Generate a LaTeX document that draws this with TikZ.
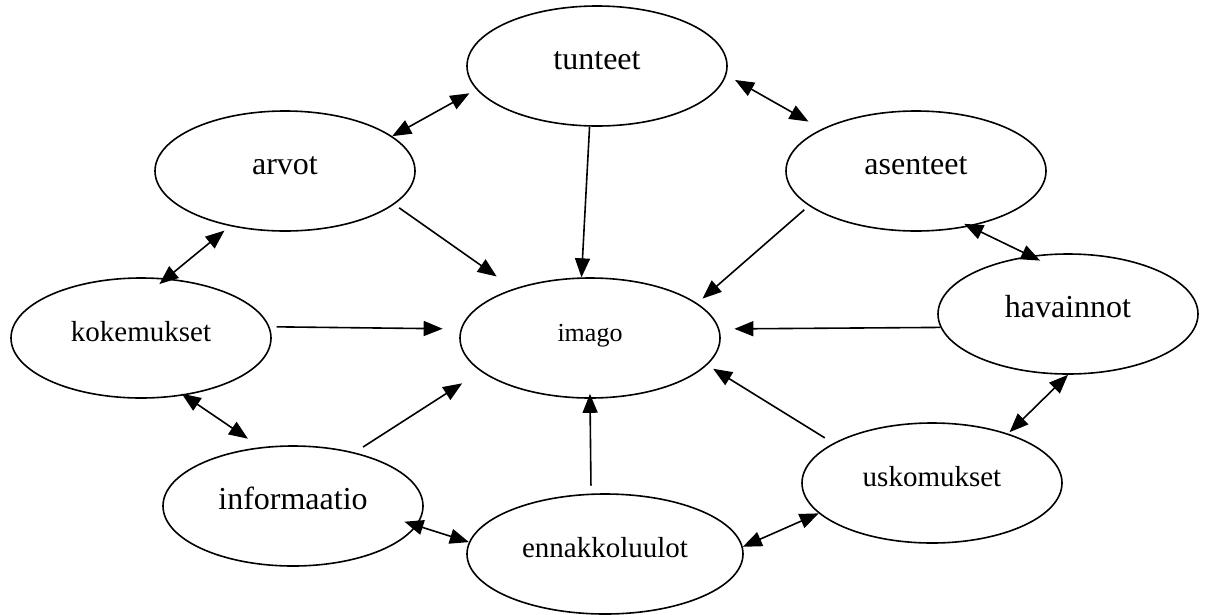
\documentclass[tikz,border=0pt]{standalone}
\usepackage{fontspec}
\setmainfont{Liberation Serif}
\usetikzlibrary{arrows.meta,shapes.geometric}
\tikzset{>={Triangle[length=19pt,width=15pt]}}
\tikzset{bubble/.style={draw,ellipse,line width=1.6pt,inner sep=0pt,
    minimum width=260pt,minimum height=120pt,text height=22pt,text depth=16pt},
  link/.style={line width=1.6pt},
  bigtxt/.style={font=\fontsize{32}{38}\selectfont},
  midtxt/.style={font=\fontsize{29}{35}\selectfont},
  smalltxt/.style={font=\fontsize{26}{31}\selectfont}}

\begin{document}
\begin{tikzpicture}[x=1pt,y=-1pt]
            \useasboundingbox (0,0) rectangle (1207,614);
            \node[bubble,bigtxt] (tunteet) at(597,66) {tunteet};
            \node[bubble,bigtxt] (arvot) at(285,171) {arvot};
            \node[bubble,bigtxt] (asenteet) at(916,171) {asenteet};
            \node[bubble,midtxt] (kokemukset) at(141,338) {kokemukset};
            \node[bubble,smalltxt] (imago) at(590,338) {imago};
            \node[bubble,bigtxt] (havainnot) at(1068,314) {havainnot};
            \node[bubble,bigtxt] (informaatio) at(293,506) {informaatio};
            \node[bubble,midtxt,minimum width=276pt] (ennakkoluulot) at(605,554) {ennakkoluulot};
            \node[bubble,midtxt] (uskomukset) at(932,483) {uskomukset};
            % kehä
            \draw[link,<->,shorten >=8pt] (arvot.18) -- (tunteet.191);
            \draw[link,<->,shorten <=10pt,shorten >=15pt] (tunteet.-4) -- (asenteet.156);
            \draw[link,<->,shorten <=-6pt,shorten >=-11pt] (asenteet.-46) -- (havainnot.123);
            \draw[link,<->,shorten >=2pt] (havainnot.270) -- (uskomukset.33);
            \draw[link,<->] (uskomukset.195) -- (ennakkoluulot.3);
            \draw[link,<->,shorten <=-13pt] (informaatio.-9) -- (ennakkoluulot.175);
            \draw[link,<->,shorten <=-3pt,shorten >=15pt] (kokemukset.-53) -- (informaatio.119);
            \draw[link,<->,shorten <=-9pt,shorten >=7pt] (kokemukset.67) -- (arvot.225);
            % kohti imagoa
            \draw[link,->] (tunteet.263) -- (imago.98);
            \draw[link,->,shorten <=6pt,shorten >=21pt] (arvot.-17) -- (imago.147);
            \draw[link,->,shorten <=6pt,shorten >=7pt] (asenteet.198) -- (imago.18);
            \draw[link,->,shorten >=15pt] (havainnot.186) -- (imago.4);
            \draw[link,->,shorten <=10pt,shorten >=7pt] (uskomukset.158) -- (imago.-13);
            \draw[link,->,shorten <=8pt,shorten >=-5pt] (ennakkoluulot.103) -- (imago.270);
            \draw[link,->,shorten <=10pt,shorten >=22pt] (informaatio.41) -- (imago.197);
            \draw[link,->,shorten <=7pt,shorten >=18pt] (kokemukset.5) -- (imago.176);
\end{tikzpicture}
\end{document}
